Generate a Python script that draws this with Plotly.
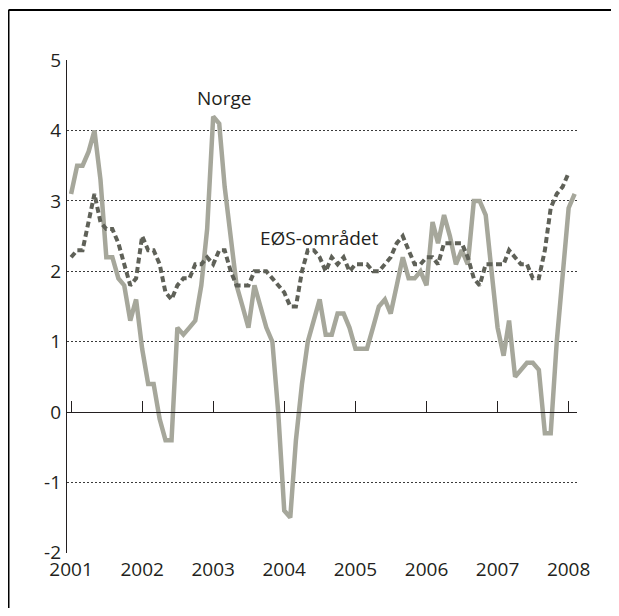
import pandas as pd
import plotly.graph_objects as go

# ---- data (monthly, 12-month change in %) ----
start_month = "2001-01-01"

norge = [
    3.1, 3.5, 3.5, 3.7, 4.0, 3.3, 2.2, 2.2, 1.9, 1.8, 1.3, 1.6,      # 2001
    0.9, 0.4, 0.4, -0.1, -0.4, -0.4, 1.2, 1.1, 1.2, 1.3, 1.8, 2.6,   # 2002
    4.2, 4.1, 3.2, 2.5, 1.8, 1.5, 1.2, 1.8, 1.5, 1.2, 1.0, 0.0,      # 2003
    -1.4, -1.5, -0.4, 0.4, 1.0, 1.3, 1.6, 1.1, 1.1, 1.4, 1.4, 1.2,   # 2004
    0.9, 0.9, 0.9, 1.2, 1.5, 1.6, 1.4, 1.8, 2.2, 1.9, 1.9, 2.0,      # 2005
    1.8, 2.7, 2.4, 2.8, 2.5, 2.1, 2.3, 2.1, 3.0, 3.0, 2.8, 2.0,      # 2006
    1.2, 0.8, 1.3, 0.5, 0.6, 0.7, 0.7, 0.6, -0.3, -0.3, 1.0, 2.0,    # 2007
    2.9, 3.1,                                                        # 2008
]

eos = [
    2.2, 2.3, 2.3, 2.7, 3.1, 2.7, 2.6, 2.6, 2.4, 2.1, 1.8, 1.9,      # 2001
    2.5, 2.3, 2.3, 2.1, 1.7, 1.6, 1.8, 1.9, 1.9, 2.1, 2.1, 2.2,      # 2002
    2.1, 2.3, 2.3, 2.0, 1.8, 1.8, 1.8, 2.0, 2.0, 2.0, 1.9, 1.8,      # 2003
    1.7, 1.5, 1.5, 2.0, 2.3, 2.3, 2.2, 2.0, 2.2, 2.1, 2.2, 2.0,      # 2004
    2.1, 2.1, 2.1, 2.0, 2.0, 2.1, 2.2, 2.4, 2.5, 2.3, 2.1, 2.1,      # 2005
    2.2, 2.2, 2.1, 2.4, 2.4, 2.4, 2.4, 2.2, 1.9, 1.8, 2.1, 2.1,      # 2006
    2.1, 2.1, 2.3, 2.2, 2.1, 2.1, 1.9, 1.9, 2.3, 2.9, 3.1, 3.2,      # 2007
    3.4,                                                             # 2008
]

years = ["2001", "2002", "2003", "2004", "2005", "2006", "2007", "2008"]
y_ticks = [-2, -1, 0, 1, 2, 3, 4, 5]
y_ticktext = ["-2", "-1", "0", "1", "2", "3", "4", "5"]

series_names = ["Norge", "EØS-området"]

# ---- derived ----
dates_norge = pd.date_range(start_month, periods=len(norge), freq="MS")
dates_eos = pd.date_range(start_month, periods=len(eos), freq="MS")
year_vals = [f"{y}-01-01" for y in years]

TXT = "#231f20"
FONT = "Open Sans, Noto Sans, DejaVu Sans, sans-serif"
x_range = ["2000-12-11", "2008-02-13"]

fig = go.Figure()
fig.add_trace(go.Scatter(
    x=dates_norge, y=norge, mode="lines", name=series_names[0],
    line=dict(color="#a6a79b", width=4.5),
    xaxis="x", yaxis="y", showlegend=False, hoverinfo="x+y",
))
fig.add_trace(go.Scatter(
    x=dates_eos, y=eos, mode="lines", name=series_names[1],
    line=dict(color="#5f6158", width=4, dash="6px,3.5px"),
    xaxis="x2", yaxis="y", showlegend=False, hoverinfo="x+y",
))

fig.update_layout(
    width=611, height=600,
    margin=dict(l=59, r=42, t=52, b=55),
    paper_bgcolor="white", plot_bgcolor="white",
    font=dict(family=FONT, size=19, color=TXT),
    xaxis=dict(
        type="date", range=x_range,
        tickmode="array", tickvals=year_vals, ticktext=years,
        showgrid=False, zeroline=False, showline=False, ticks="",
        ticklabelstandoff=3,
        tickfont=dict(size=19, color=TXT),
    ),
    xaxis2=dict(
        type="date", range=x_range, overlaying="x", anchor="free",
        position=2 / 7, side="bottom",
        tickmode="array", tickvals=year_vals,
        showticklabels=False, showgrid=False, zeroline=False,
        showline=True, linecolor=TXT, linewidth=1.3,
        ticks="inside", ticklen=11, tickwidth=1.2, tickcolor=TXT,
    ),
    yaxis=dict(
        range=[-2.003, 5.003], tickmode="array",
        tickvals=y_ticks, ticktext=y_ticktext,
        showgrid=True, gridcolor="#3a3a3a", gridwidth=1, griddash="2px,2px",
        zeroline=False, showline=True, linecolor=TXT, linewidth=1.3,
        ticks="", ticklabelstandoff=1, tickfont=dict(size=19, color=TXT),
    ),
    annotations=[
        dict(x="2003-03-01", y=4.47, xref="x", yref="y", text=series_names[0],
             showarrow=False, font=dict(size=19, color=TXT)),
        dict(x="2004-06-28", y=2.48, xref="x", yref="y", text=series_names[1],
             showarrow=False, font=dict(size=19, color=TXT)),
    ],
    shapes=[
        dict(type="line", xref="paper", yref="paper",
             x0=-0.1147, x1=1.5, y0=1.1014, y1=1.1014,
             line=dict(color="black", width=2)),
        dict(type="line", xref="paper", yref="paper",
             x0=-0.1147, x1=-0.1147, y0=1.1014, y1=-0.5,
             line=dict(color="black", width=2)),
    ],
)

fig.write_html("out.html")
